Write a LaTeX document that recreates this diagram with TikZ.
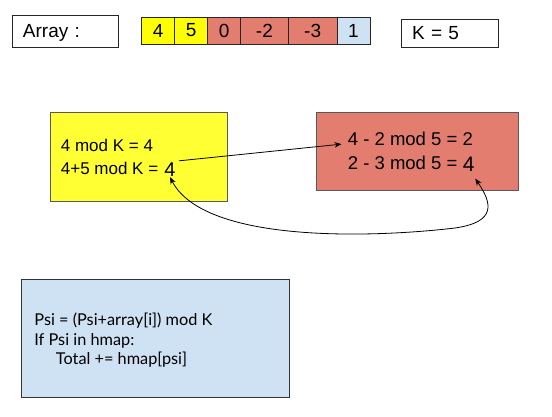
\documentclass[tikz,border=0pt]{standalone}
\usepackage{fontspec}
\setmainfont{Liberation Sans}
\newfontfamily\codefont{Lato}
\usetikzlibrary{positioning,calc,arrows.meta}
\definecolor{cellyellow}{HTML}{FFFF00}
\definecolor{boxyellow}{HTML}{FFFF33}
\definecolor{cellred}{HTML}{E27D6F}
\definecolor{cellblue}{HTML}{CFE2F3}
\definecolor{edgegray}{HTML}{595959}

\begin{document}
\begin{tikzpicture}[x=1pt,y=-1pt,>={Stealth[length=7pt,width=5.5pt]},line width=0.8pt,
    cell/.style={draw=black!85,outer sep=0pt,inner sep=0pt,minimum height=27pt,font=\fontsize{19}{22}\selectfont},
    tag/.style={draw=black!85,outer sep=0pt,inner xsep=11pt,inner ysep=0pt,align=left,
      text height=13.6pt,text depth=0pt,font=\fontsize{19}{22}\selectfont},
    panel/.style={draw=edgegray,outer sep=0pt,inner sep=0pt,anchor=north west},
    txt/.style={inner sep=0pt,anchor=base west}]
  \fill[white] (0,0) rectangle (552,417);
  \useasboundingbox (0,0) rectangle (552,417);

  \node[tag,text width=84pt,minimum height=32pt,anchor=west] (arr) at (12,31) {Array :};
  \node[cell,fill=cellyellow,minimum width=33pt,anchor=north west] (c1) at (141.7,17) {4};
  \node[cell,fill=cellyellow,minimum width=33pt,right=0pt of c1] (c2) {5};
  \node[cell,fill=cellred,minimum width=32.7pt,right=0pt of c2] (c3) {0};
  \node[cell,fill=cellred,minimum width=48pt,right=0pt of c3] (c4) {-2};
  \node[cell,fill=cellred,minimum width=48.5pt,right=0pt of c4] (c5) {-3};
  \node[cell,fill=cellblue,minimum width=33pt,right=0pt of c5] (c6) {1};
  \node[tag,text width=75pt,minimum height=28pt,anchor=west] (k) at (401,33) {K = 5};

  \node[panel,fill=boxyellow,minimum width=177pt,minimum height=89pt] (ybox) at (50,112) {};
  \node[panel,fill=cellred,minimum width=202pt,minimum height=78pt] (rbox) at (316,112) {};
  \node[panel,draw=black!80,fill=cellblue,minimum width=268pt,minimum height=118pt] (bbox) at (21,279) {};

  \begin{scope}[font=\fontsize{17}{20}\selectfont]
    \node[txt] (y1) at (60.5,151.7) {4 mod K = 4};
    \node[txt] (y2) at (60.5,175) {4+5 mod K =};
    \node[txt,font=\fontsize{20}{22}\selectfont] (y4) at (164,176.7) {4};
  \end{scope}
  \begin{scope}[font=\fontsize{18.5}{21}\selectfont]
    \node[txt] (r1) at (347.5,146) {4 - 2 mod 5 = 2};
    \node[txt] (r2) at (347.5,170) {2 - 3 mod 5 =};
    \node[txt,font=\fontsize{21}{24}\selectfont] (r4) at (462.5,171.7) {4};
  \end{scope}
  \begin{scope}[font=\codefont\fontsize{16.3}{19}\selectfont]
    \node[txt] (b1) at (34,325) {Psi = (Psi+array[i]) mod K};
    \node[txt] (b2) at (34,345) {If Psi in hmap:};
    \node[txt] (b3) at (55.5,364.5) {Total += hmap[psi]};
  \end{scope}

  \draw[->] ($(y4.north east)+(3,-1.7)$) -- ($(r1.west)+(-6,4.75)$);
  \coordinate (turn) at (455,228);
  \draw[<->] ($(r4.south)+(6.5,6.5)$) .. controls (492,203) and (497,222) .. (turn)
    .. controls (380,237) and (205,245) .. (y4.south);
\end{tikzpicture}
\end{document}
